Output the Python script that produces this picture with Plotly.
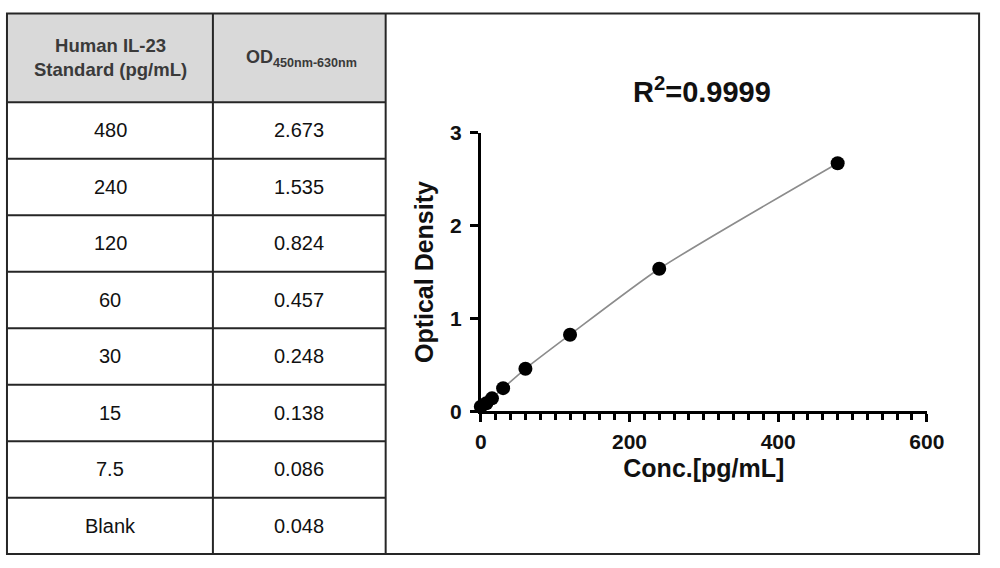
import plotly.graph_objects as go

# ---- data ----
std_labels = ["480", "240", "120", "60", "30", "15", "7.5", "Blank"]
od_labels = ["2.673", "1.535", "0.824", "0.457", "0.248", "0.138", "0.086", "0.048"]
conc = [480, 240, 120, 60, 30, 15, 7.5, 0]
od = [2.673, 1.535, 0.824, 0.457, 0.248, 0.138, 0.086, 0.048]
x_ticks = [0, 200, 400, 600]
y_ticks = [0, 1, 2, 3]
title_text = "R<sup>2</sup>=0.9999"
col_headers = ["Human IL-23<br>Standard (pg/mL)", "OD<sub>450nm-630nm</sub>"]

W, H = 1000, 568
FONT = "Liberation Sans, Arial, sans-serif"


def px(x):
    return x / W


def py(y):
    return 1 - y / H


fig = go.Figure()

# fitted curve (smooth line through the standards) and points
order = sorted(range(len(conc)), key=lambda i: conc[i])
fig.add_trace(go.Scatter(
    x=[conc[i] for i in order], y=[od[i] for i in order],
    mode="lines", line=dict(color="#8c8c8c", width=1.6, shape="spline", smoothing=0.6),
    hoverinfo="skip", showlegend=False, cliponaxis=False))
fig.add_trace(go.Scatter(
    x=conc, y=od, mode="markers",
    marker=dict(color="black", size=14), showlegend=False, cliponaxis=False))

# ---- table geometry (pixels) ----
tx0, tmid, tx1 = 1.5, 212, 389
hy0, hy1 = 1.5, 94
row_h = (565 - hy1) / len(std_labels)

shapes = []
shapes.append(dict(type="rect", xref="paper", yref="paper",
                   x0=px(tx0), x1=px(tx1), y0=py(hy0), y1=py(hy1),
                   fillcolor="#d9d9d9", line=dict(width=0), layer="below"))
line_col = "#262626"
for k in range(len(std_labels) + 1):
    yy = hy1 + k * row_h
    shapes.append(dict(type="line", xref="paper", yref="paper",
                       x0=px(tx0), x1=px(tx1), y0=py(yy), y1=py(yy),
                       line=dict(color=line_col, width=2)))
for xx in (tmid, tx1):
    shapes.append(dict(type="line", xref="paper", yref="paper",
                       x0=px(xx), x1=px(xx), y0=py(hy0), y1=py(565),
                       line=dict(color=line_col, width=2)))
shapes.append(dict(type="rect", xref="paper", yref="paper",
                   x0=px(1), x1=px(997), y0=py(1.5), y1=py(565),
                   line=dict(color=line_col, width=2)))

annotations = []
c1 = (tx0 + tmid) / 2
c2 = (tmid + tx1) / 2
annotations.append(dict(xref="paper", yref="paper", x=px(c1), y=py((hy0 + hy1) / 2),
                        text="<b>" + col_headers[0] + "</b>", showarrow=False,
                        font=dict(family=FONT, size=18.5, color="#3a3a3a"),
                        xanchor="center", yanchor="middle"))
annotations.append(dict(xref="paper", yref="paper", x=px(c2 + 2), y=py((hy0 + hy1) / 2 + 1),
                        text="<b>" + col_headers[1] + "</b>", showarrow=False,
                        font=dict(family=FONT, size=18, color="#3a3a3a"),
                        xanchor="center", yanchor="middle"))
for i, (a, b) in enumerate(zip(std_labels, od_labels)):
    yc = hy1 + (i + 0.5) * row_h
    for xc, t in ((c1, a), (c2, b)):
        annotations.append(dict(xref="paper", yref="paper", x=px(xc), y=py(yc),
                                text=t, showarrow=False,
                                font=dict(family=FONT, size=20, color="#111111"),
                                xanchor="center", yanchor="middle"))

# chart title
annotations.append(dict(xref="paper", yref="paper", x=px(713), y=py(81),
                        text="<b>" + title_text + "</b>", showarrow=False,
                        font=dict(family=FONT, size=29, color="#111111"),
                        xanchor="center", yanchor="middle"))

axis_common = dict(showline=True, linecolor="black", linewidth=3,
                   ticks="outside", ticklen=8, tickwidth=3, tickcolor="black",
                   showgrid=False, zeroline=False,
                   tickfont=dict(family=FONT, size=21, color="#111111", weight="bold"))

fig.update_layout(
    width=W, height=H, margin=dict(l=0, r=0, t=0, b=0),
    paper_bgcolor="white", plot_bgcolor="white",
    shapes=shapes, annotations=annotations,
    xaxis=dict(domain=[px(486.5), px(943.5)], range=[0, 600], tickvals=x_ticks,
               minor=dict(dtick=20, tick0=0, ticks="outside", ticklen=6, tickwidth=2.5,
                          tickcolor="black"),
               ticklabelstandoff=2,
               title=dict(text="Conc.[pg/mL]", standoff=8,
                          font=dict(family=FONT, size=25, color="#111111", weight="bold")),
               anchor="y", **axis_common),
    yaxis=dict(domain=[py(416), py(126)], range=[0, 3], tickvals=y_ticks,
               ticklabelstandoff=4,
               title=dict(text="Optical Density", standoff=10,
                          font=dict(family=FONT, size=25, color="#111111", weight="bold")),
               anchor="x", **axis_common),
)

fig.write_html("out.html")
